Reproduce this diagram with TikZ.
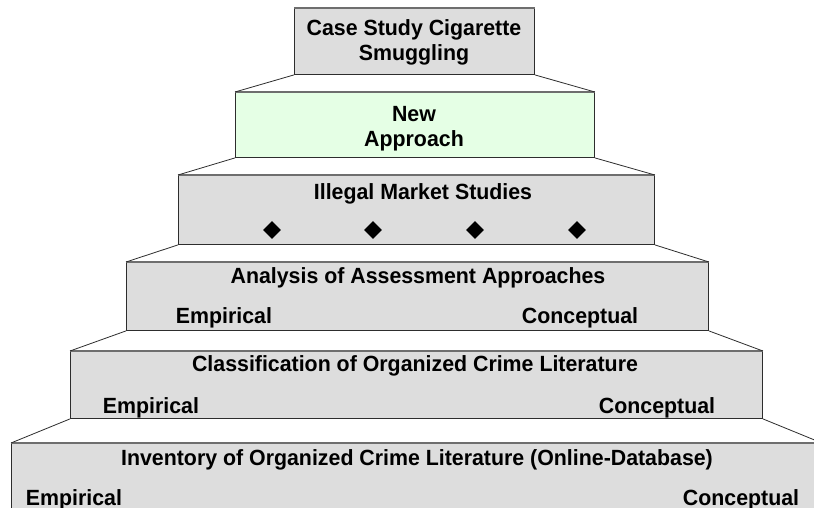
\documentclass[tikz,border=0pt]{standalone}
\usepackage{fontspec}
\setmainfont{Liberation Sans}[BoldFeatures={FakeStretch=0.97}]
\usetikzlibrary{shapes.geometric}
\definecolor{tiergray}{RGB}{221,221,221}
\definecolor{tiergreen}{RGB}{229,255,229}
\definecolor{edgedark}{RGB}{45,45,45}
\definecolor{edgetop}{RGB}{110,110,110}
\tikzset{
  tier/.style={draw=edgedark, line width=0.9pt, fill=tiergray, rectangle,
    inner sep=0pt, anchor=north west},
  newtier/.style={tier, fill=tiergreen},
  topedge/.style={draw=edgetop, line width=1.8pt},
  riser/.style={draw=edgedark, line width=0.8pt},
  label/.style={font=\fontsize{22}{25}\selectfont\bfseries, inner sep=0pt, anchor=base},
  bullet/.style={diamond, fill=black, draw=none, minimum size=18pt, inner sep=0pt}
}
\begin{document}
\begin{tikzpicture}[x=1pt,y=-1pt]
\useasboundingbox (0,0) rectangle (814,508);
\clip (0,0) rectangle (814,508);
\fill[white] (0,0) rectangle (814,508);

% pyramid tiers, top to bottom
\node[tier,    minimum width=240pt, minimum height=66pt] (t1) at (294,8) {};
\node[newtier, minimum width=359pt, minimum height=65pt] (t2) at (235,92) {};
\node[tier,    minimum width=476pt, minimum height=69pt] (t3) at (178,175) {};
\node[tier,    minimum width=582pt, minimum height=68pt] (t4) at (126,262) {};
\node[tier,    minimum width=692pt, minimum height=67pt] (t5) at (70,351) {};
\node[tier,    minimum width=810pt, minimum height=80pt] (t6) at (11,443) {};

% heavier upper rims
\foreach \t in {t1,t2,t3,t4,t5,t6}
  \draw[topedge] (\t.north west) -- (\t.north east);

% slanted risers joining consecutive tiers
\foreach \a/\b in {t1/t2,t2/t3,t3/t4,t4/t5,t5/t6} {
  \draw[riser] (\a.south west) -- (\b.north west);
  \draw[riser] (\a.south east) -- (\b.north east);
}

% tier 1
\node[label] (t1a) at (414,36) {Case Study Cigarette};
\node[label] (t1b) at (414,61) {Smuggling};
% tier 2
\node[label] (t2a) at (414,122) {New};
\node[label] (t2b) at (414,147) {Approach};
% tier 3
\node[label] (t3a) at (423,200) {Illegal Market Studies};
\node[bullet] (d1) at (272,230) {};
\node[bullet] (d2) at (373,230) {};
\node[bullet] (d3) at (475,230) {};
\node[bullet] (d4) at (577,230) {};
% tier 4
\node[label] (t4a) at (418,283) {Analysis of Assessment Approaches};
\node[label] (t4e) at (224,323) {Empirical};
\node[label] (t4c) at (580,323) {Conceptual};
% tier 5
\node[label] (t5a) at (415,371) {Classification of Organized Crime Literature};
\node[label] (t5e) at (151,413) {Empirical};
\node[label] (t5c) at (657,413) {Conceptual};
% tier 6
\node[label] (t6a) at (417,465) {Inventory of Organized Crime Literature (Online-Database)};
\node[label] (t6e) at (74,505) {Empirical};
\node[label] (t6c) at (741,505) {Conceptual};
\end{tikzpicture}
\end{document}
